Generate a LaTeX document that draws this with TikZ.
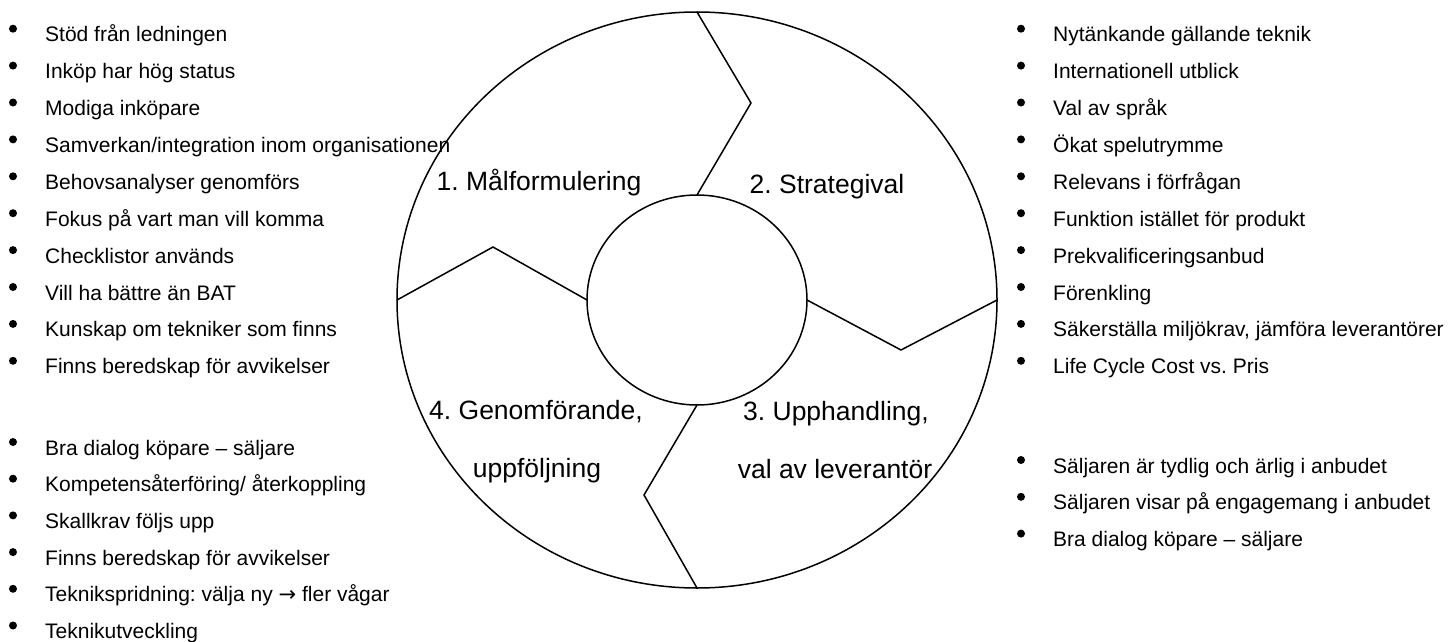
\documentclass[tikz,border=0pt]{standalone}
\usepackage{fontspec}
\setmainfont{Liberation Sans}
\newfontfamily\arrowfont{DejaVu Sans}
\frenchspacing
\usetikzlibrary{shapes.geometric}

\tikzstyle{ring} = [ellipse, draw=black, line width=1.5pt, inner sep=0pt, outer sep=0pt]
\tikzstyle{phase} = [font=\fontsize{26.5}{30}\selectfont, anchor=base, inner sep=0pt]
\tikzstyle{item} = [font=\fontsize{21}{24}\selectfont, anchor=base west, inner sep=0pt]
\tikzstyle{edge} = [line width=1.5pt, line join=miter]

\begin{document}
\begin{tikzpicture}[x=1pt, y=-1pt]
		\useasboundingbox (0,0) rectangle (1456,642);

		% the wheel
		\node (outer) [ring, minimum width=600pt, minimum height=576pt] at (697,300) {};
		\node (inner) [ring, minimum width=220pt, minimum height=210pt] at (697,300) {};
		\coordinate (top) at (751,103);
		\coordinate (right) at (901,350);
		\coordinate (bottom) at (644,495);
		\coordinate (left) at (493,247);
		\draw [edge] (outer.north) -- (top) -- (inner.north);
		\draw [edge] (inner.east) -- (right) -- (outer.east);
		\draw [edge] (inner.south) -- (bottom) -- (outer.south);
		\draw [edge] (outer.west) -- (left) -- (inner.west);

		\node (goal) [phase] at (539,190) {1. Målformulering};
		\node (strategy) [phase] at (827,193) {2. Strategival};
		\node (tender) [phase] at (836,420) {3. Upphandling,};
		\node (supplier) [phase] at (835,478) {val av leverantör};
		\node (execute) [phase] at (536,419) {4. Genomförande,};
		\node (followup) [phase] at (537,477) {uppföljning};

		% left lists
		\foreach \txt [count=\i, evaluate=\i as \y using 41.7+36.9*(\i-1)] in {Stöd från ledningen, Inköp har hög status, Modiga inköpare, Samverkan/integration inom organisationen, Behovsanalyser genomförs, Fokus på vart man vill komma, Checklistor används, Vill ha bättre än BAT, Kunskap om tekniker som finns, Finns beredskap för avvikelser} {
			\node (goalitem\i) [item] at (45,\y) {\txt};
			\fill (13,\y-13) circle (4);
		}
		\foreach \txt [count=\i, evaluate=\i as \y using 455+36.7*(\i-1)] in {Bra dialog köpare – säljare, Kompetensåterföring/ återkoppling, Skallkrav följs upp, Finns beredskap för avvikelser, Teknikspridning: välja ny {\arrowfont →} fler vågar, Teknikutveckling} {
			\node (execitem\i) [item] at (45,\y) {\txt};
			\fill (13,\y-13) circle (4);
		}

		% right lists
		\foreach \txt [count=\i, evaluate=\i as \y using 41.7+36.9*(\i-1)] in {Nytänkande gällande teknik, Internationell utblick, Val av språk, Ökat spelutrymme, Relevans i förfrågan, Funktion istället för produkt, Prekvalificeringsanbud, Förenkling, {Säkerställa miljökrav, jämföra leverantörer}, Life Cycle Cost vs. Pris} {
			\node (strategyitem\i) [item] at (1053,\y) {\txt};
			\fill (1021,\y-13) circle (4);
		}
		\foreach \txt [count=\i, evaluate=\i as \y using 473+36.8*(\i-1)] in {Säljaren är tydlig och ärlig i anbudet, Säljaren visar på engagemang i anbudet, Bra dialog köpare – säljare} {
			\node (tenderitem\i) [item] at (1053,\y) {\txt};
			\fill (1021,\y-13) circle (4);
		}
	\end{tikzpicture}
\end{document}
